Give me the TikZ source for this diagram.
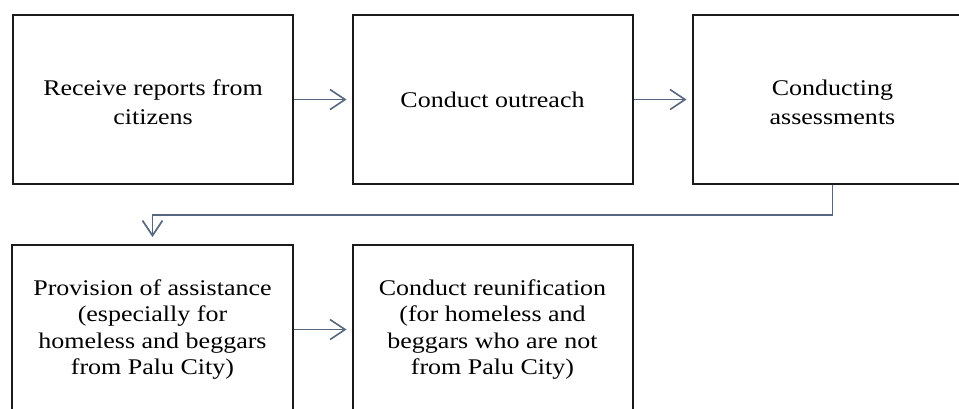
\documentclass[tikz,border=0pt]{standalone}
\usepackage{fontspec}
\setmainfont{Liberation Serif}[FakeStretch=1.16]
\usetikzlibrary{arrows.meta,calc}
\definecolor{boxline}{HTML}{1A1A1A}
\definecolor{arrowcol}{HTML}{56667F}
\tikzset{
  stepbox/.style={draw=boxline, line width=2bp, rectangle, minimum width=280bp, minimum height=169bp,
    inner sep=0pt},
  steptext/.style={align=center, inner sep=0pt, font=\fontsize{22.5}{28.8}\selectfont},
  steptextb/.style={align=center, inner sep=0pt, font=\fontsize{22.5}{26.3}\selectfont},
  flow/.style={draw=arrowcol, line width=1.6bp, -{Straight Barb[length=15bp,width=20bp,line width=1.6bp]}}
}
\begin{document}
\begin{tikzpicture}[x=1bp,y=-1bp]
\useasboundingbox (0,0) rectangle (959,408);
\clip (0,0) rectangle (959,408);
\fill[white] (0,0) rectangle (959,408);
\node[stepbox] (b1) at (153,99.5) {};
\node[stepbox] (b2) at (492.5,99.5) {};
\node[stepbox] (b3) at (832.5,99.5) {};
\node[stepbox] (b4) at (152.5,329.5) {};
\node[stepbox] (b5) at (492.5,329.5) {};
\node[steptext] (t1) at ([yshift=-2.5bp]b1.center) {Receive reports from\\citizens};
\node[steptext] (t2) at (b2.center) {Conduct outreach};
\node[steptext] (t3) at ([yshift=-2.5bp]b3.center) {Conducting\\assessments};
\node[steptextb] (t4) at (b4.center) {Provision of assistance\\(especially for\\homeless and beggars\\from Palu City)};
\node[steptextb] (t5) at (b5.center) {Conduct reunification\\(for homeless and\\beggars who are not\\from Palu City)};
\coordinate (turn) at ($(b3.south)+(0,30)$);
\draw[flow, shorten >=5bp] (b1.east) -- (b2.west);
\draw[flow, shorten >=5bp] (b2.east) -- (b3.west);
\draw[flow, shorten >=7bp] (b3.south) -- (turn) -| (b4.north);
\draw[flow, shorten >=5bp] (b4.east) -- (b5.west);
\end{tikzpicture}
\end{document}
